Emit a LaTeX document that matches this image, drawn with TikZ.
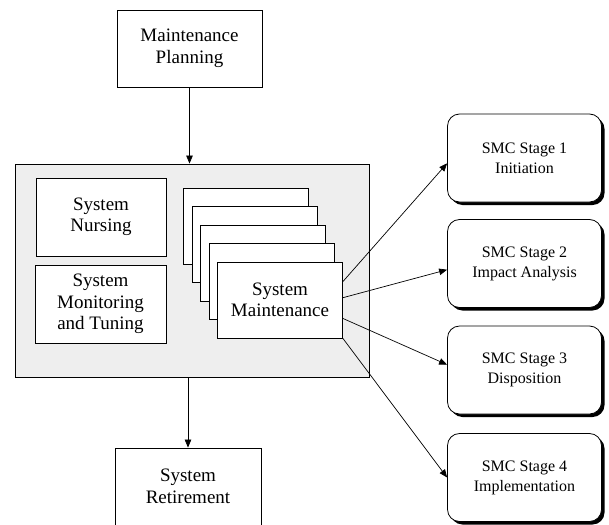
\documentclass[tikz,border=0pt]{standalone}
\usepackage{fontspec}
\setmainfont{Liberation Serif}
\newfontfamily\diagfont{Liberation Serif}
\usetikzlibrary{arrows.meta,calc,shadows}
\definecolor{panelgray}{RGB}{238,238,238}
\begin{document}
\begin{tikzpicture}[x=1pt,y=-1pt,
  box/.style={draw,line width=0.8pt,fill=white,rectangle,inner sep=0pt,align=center,
    font=\diagfont\fontsize{19}{21.5}\selectfont},
  stackbox/.style={box,minimum width=125pt,minimum height=76pt},
  smc/.style={draw,line width=0.8pt,fill=white,rounded corners=12pt,inner sep=0pt,align=center,
    font=\diagfont\fontsize{16}{20}\selectfont,minimum width=154pt,minimum height=88pt,
    drop shadow={shadow xshift=3pt,shadow yshift=-3pt,opacity=1,fill=black}},
  arr/.style={-{Triangle[length=8pt,width=6.5pt]},line width=0.7pt}]
\useasboundingbox (0,0) rectangle (609,524);

\node[box,minimum width=145pt,minimum height=77pt] (mp) at (189.5,48.5) {Maintenance\\Planning};
\node[draw,line width=0.8pt,fill=panelgray,minimum width=354pt,minimum height=213pt,inner sep=0pt] (panel) at (192,270.5) {};
\node[box,minimum width=130pt,minimum height=78pt] (nurs) at (101,217) {System\\Nursing};
\node[box,minimum width=131pt,minimum height=78pt] (mon) at (100.5,304) {System\\Monitoring\\and Tuning};

\node[stackbox] (b1) at (246,226) {};
\node[stackbox] (b2) at (254.5,244.5) {};
\node[stackbox] (b3) at (263,263) {};
\node[stackbox] (b4) at (271.5,281.5) {};
\node[stackbox] (b5) at (280,300) {System\\Maintenance};

\node[box,minimum width=146pt,minimum height=77pt] (ret) at (188,486.5) {System\\Retirement};

\node[smc] (s1) at (524.5,158) {SMC Stage 1\\Initiation};
\node[smc] (s2) at (524.5,263.5) {SMC Stage 2\\Impact Analysis};
\node[smc] (s3) at (524.5,370) {SMC Stage 3\\Disposition};
\node[smc] (s4) at (524.5,477.5) {SMC Stage 4\\Implementation};

\draw[arr] (mp.south) -- (mp.south |- panel.north);
\draw[arr] (panel.south -| ret.north) -- (ret.north);

\draw[arr] ($(b5.north east)!0.26!(b5.south east)$) -- ($(s1.north west)!0.56!(s1.south west)$);
\draw[arr] ($(b5.north east)!0.47!(b5.south east)$) -- ($(s2.north west)!0.57!(s2.south west)$);
\draw[arr] ($(b5.north east)!0.74!(b5.south east)$) -- ($(s3.north west)!0.44!(s3.south west)$);
\draw[arr] (b5.south east) -- ($(s4.north west)!0.5!(s4.south west)$);
\end{tikzpicture}
\end{document}
